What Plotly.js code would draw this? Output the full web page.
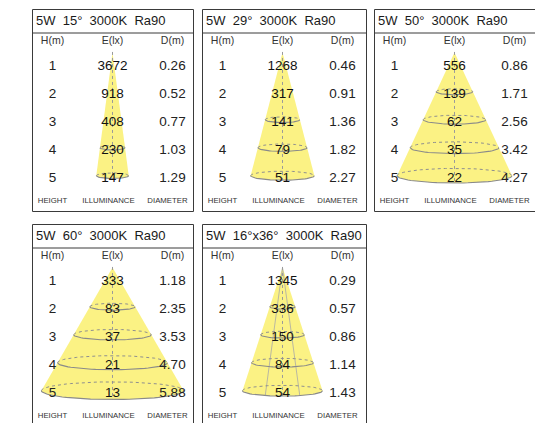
<!DOCTYPE html>
<html>
<head>
<meta charset="utf-8">
<script src="https://cdn.plot.ly/plotly-3.0.1.min.js"></script>
<style>html,body{margin:0;padding:0;background:#fff;}#chart{width:535px;height:423px;}</style>
</head>
<body>
<div id="chart"></div>
<script>
// ---------------- data ----------------
const titles = ['5W\u00a0 15°\u00a0 3000K\u00a0 Ra90', '5W\u00a0 29°\u00a0 3000K\u00a0 Ra90', '5W\u00a0 50°\u00a0 3000K\u00a0 Ra90', '5W\u00a0 60°\u00a0 3000K\u00a0 Ra90', '5W\u00a0 16°x36°\u00a0 3000K\u00a0 Ra90'];
const beamAngles = [15, 29, 50, 60, 36];
const innerAngles = [null, null, null, null, 16];
const heights = [1, 2, 3, 4, 5];
const luxP1 = [3672, 918, 408, 230, 147];
const luxP2 = [1268, 317, 141, 79, 51];
const luxP3 = [556, 139, 62, 35, 22];
const luxP4 = [333, 83, 37, 21, 13];
const luxP5 = [1345, 336, 150, 84, 54];
const diamP1 = ['0.26', '0.52', '0.77', '1.03', '1.29'];
const diamP2 = ['0.46', '0.91', '1.36', '1.82', '2.27'];
const diamP3 = ['0.86', '1.71', '2.56', '3.42', '4.27'];
const diamP4 = ['1.18', '2.35', '3.53', '4.70', '5.88'];
const diamP5 = ['0.29', '0.57', '0.86', '1.14', '1.43'];
const headerLabels = ['H(m)', 'E(lx)', 'D(m)'];
const footerLabels = ['HEIGHT', 'ILLUMINANCE', 'DIAMETER'];
const luxAll = [luxP1, luxP2, luxP3, luxP4, luxP5];
const diamAll = [diamP1, diamP2, diamP3, diamP4, diamP5];

// ---------------- layout geometry (pixels) ----------------
const W = 535, H = 423, S = 28;          // S = pixels per unit (both axes)
const boxes = [[32.5,193.5,9.5,211.5],[202.5,366.5,9.5,211.5],[374.5,537,9.5,211.5],[32.5,193.5,224.5,426],[202.5,366.5,224.5,426]];
const CX = 80;     // centre column offset from panel left
const ROW0 = 29;   // y px of h=0 from panel top
const colH = (20 - CX) / S, colE = 0, colD = (140 - CX) / S;
const footX = [(20 - CX) / S, (76 - CX) / S, (135 - CX) / S];
const yTitle = (12 - ROW0) / S, yHead = (32 - ROW0) / S, yFoot = (192 - ROW0) / S;
const apexH = 0.5, ringShift = 0.1;
const yellow = 'rgb(251,242,132)';
const FONT = 'Liberation Sans, Arial, Helvetica, sans-serif';

const data = [];
const layout = {
  width: W, height: H, margin: {l:0, r:0, t:0, b:0},
  paper_bgcolor: '#fff', plot_bgcolor: 'rgba(0,0,0,0)',
  showlegend: false, shapes: [], hovermode: false
};

function arc(cx, cy, rx, ry, t0, t1, n) {
  const xs = [], ys = [];
  for (let k = 0; k <= n; k++) {
    const t = t0 + (t1 - t0) * k / n;
    xs.push(cx + rx * Math.cos(t));
    ys.push(cy + ry * Math.sin(t));
  }
  return [xs, ys];
}

boxes.forEach((b, i) => {
  const [L, R, T, B] = b;
  const xa = 'x' + (i ? i + 1 : ''), ya = 'y' + (i ? i + 1 : '');
  const Rc = Math.min(R, W), Bc = Math.min(B, H);
  const cxPx = L + CX;
  layout['xaxis' + (i ? i + 1 : '')] = {
    domain: [L / W, Rc / W], range: [(L - cxPx) / S, (Rc - cxPx) / S],
    visible: false, fixedrange: true, anchor: ya
  };
  layout['yaxis' + (i ? i + 1 : '')] = {
    domain: [1 - Bc / H, 1 - T / H], range: [(Bc - T - ROW0) / S, (T - T - ROW0) / S],
    visible: false, fixedrange: true, anchor: xa
  };
  // box and header separator (paper coords)
  layout.shapes.push({type:'rect', xref:'paper', yref:'paper', x0:L/W, x1:R/W, y0:1-B/H, y1:1-T/H,
    line:{color:'#3a3a3a', width:1}, fillcolor:'rgba(0,0,0,0)'});
  layout.shapes.push({type:'line', xref:'paper', yref:'paper', x0:L/W, x1:R/W, y0:1-(T+23.5)/H, y1:1-(T+23.5)/H,
    line:{color:'#3a3a3a', width:1}});

  // cone
  const tn = Math.tan(beamAngles[i] / 2 * Math.PI / 180);
  const yB = heights[heights.length - 1] - ringShift;
  const hwB = tn * (yB - apexH);
  const ryOf = hw => (0.11 * hw * S + 1) / S;
  const ryB = ryOf(hwB);
  const base = arc(0, yB, hwB, ryB, 0, Math.PI, 40);
  data.push({x: [-hwB, 0, hwB].concat(base[0]), y: [yB, apexH, yB].concat(base[1]),
    xaxis: xa, yaxis: ya, mode: 'lines', fill: 'toself', fillcolor: yellow,
    line: {width: 0, color: yellow}, hoverinfo: 'skip'});
  // inner beam lines
  if (innerAngles[i]) {
    const ti = Math.tan(innerAngles[i] / 2 * Math.PI / 180) * (yB - apexH);
    data.push({x: [-ti, 0, ti], y: [yB + ryB * 0.95, apexH, yB + ryB * 0.95], xaxis: xa, yaxis: ya, mode: 'lines',
      line: {color: '#a8a8a8', width: 0.8}, hoverinfo: 'skip'});
  }
  // centre dotted axis
  data.push({x: [0, 0], y: [apexH - 0.02, yB + ryB], xaxis: xa, yaxis: ya, mode: 'lines',
    line: {color: '#9a9a9a', width: 1, dash: 'dot'}, hoverinfo: 'skip'});
  // rings
  const fx = [], fy = [], bx = [], by = [];
  heights.forEach(h => {
    const yc = h - ringShift;
    const hw = tn * (yc - apexH);
    if (hw * S < 11) return;
    const ry = ryOf(hw);
    const f = arc(0, yc, hw, ry, 0, Math.PI, 40);
    const k = arc(0, yc, hw, ry, Math.PI, 2 * Math.PI, 40);
    fx.push(...f[0], null); fy.push(...f[1], null);
    bx.push(...k[0], null); by.push(...k[1], null);
  });
  data.push({x: bx, y: by, xaxis: xa, yaxis: ya, mode: 'lines',
    line: {color: '#8f8f8f', width: 1, dash: 'dot'}, hoverinfo: 'skip'});
  data.push({x: fx, y: fy, xaxis: xa, yaxis: ya, mode: 'lines',
    line: {color: '#8a8a8a', width: 1.1}, hoverinfo: 'skip'});

  // texts
  const txt = (x, y, t, size, color, pos) => data.push({x, y, text: t, xaxis: xa, yaxis: ya,
    mode: 'text', textposition: pos || 'middle center', cliponaxis: false, hoverinfo: 'skip',
    textfont: {family: FONT, size, color}});
  txt([(3.5 - CX) / S], [yTitle], [titles[i]], 13, '#1a1a1a', 'middle right');
  txt([colH, colE, colD], [yHead, yHead, yHead], headerLabels, 10.5, '#333');
  txt(heights.map(() => colH), heights, heights.map(String), 13.5, '#222');
  txt(heights.map(() => colE), heights, luxAll[i].map(String), 13.5, '#111');
  txt(heights.map(() => colD), heights, diamAll[i], 13.5, '#222');
  txt(footX, [yFoot, yFoot, yFoot], footerLabels, 7.8, '#333');
});

Plotly.newPlot('chart', data, layout, {staticPlot: true, displayModeBar: false});
</script>
</body>
</html>
